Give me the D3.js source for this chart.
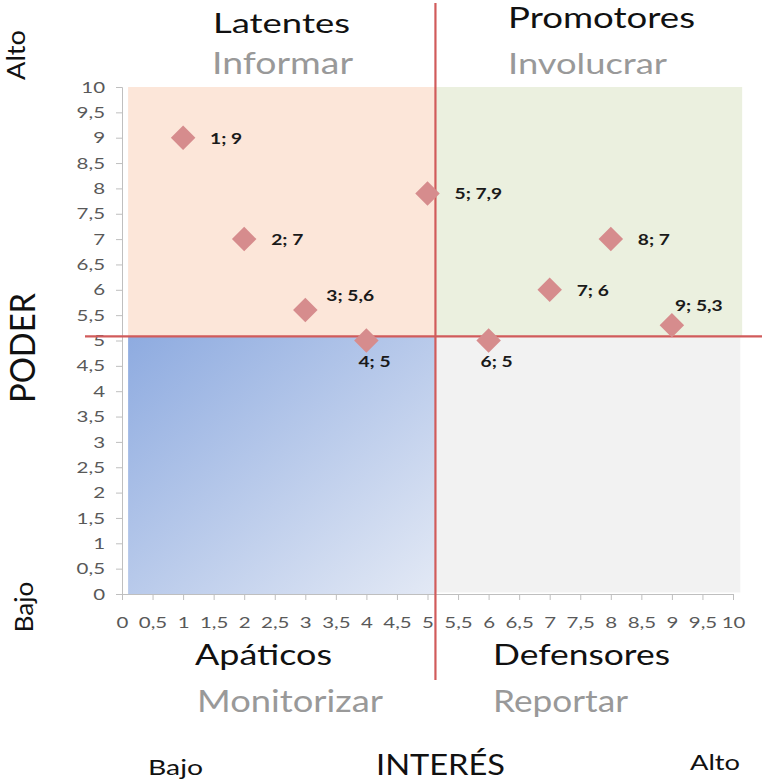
<!DOCTYPE html>
<html><head><meta charset="utf-8">
<script src="https://cdn.jsdelivr.net/npm/d3@7"></script>
<style>
body{margin:0;background:#fff;}
svg{display:block;font-family:Lato,"Open Sans",sans-serif;}
</style></head>
<body><svg id="c" width="762" height="782"></svg>
<script>
// Data
const interes = [1, 2, 3, 4, 5, 6, 7, 8, 9];
const poder   = [9, 7, 5.6, 5, 7.9, 5, 6, 7, 5.3];
const labelPlacement = ["right","right","upRight","below","right","below","right","right","up"];
const tickValues = d3.range(0, 10.01, 0.5);
const quadrantTitles = ["Latentes","Promotores","Apáticos","Defensores"];
const quadrantActions = ["Informar","Involucrar","Monitorizar","Reportar"];
const xDivider = 5.13, yDivider = 5.08;

const FONT = "Lato,'Open Sans',sans-serif";
const SX = 1.28; // horizontal stretch of the reference text
const svg = d3.select("#c");
const x = d3.scaleLinear().domain([0,10]).range([122,733]);
const y = d3.scaleLinear().domain([0,10]).range([594,87]);
const loc = d3.formatLocale({decimal:",",thousands:".",grouping:[3],currency:["",""]});
const fmt = v => loc.format("~g")(v);

// gradient
const defs = svg.append("defs");
const g = defs.append("linearGradient").attr("id","blueGrad").attr("x1","0").attr("y1","0").attr("x2","1").attr("y2","1");
g.append("stop").attr("offset","0%").attr("stop-color","#8eabe0");
g.append("stop").attr("offset","100%").attr("stop-color","#e3e9f5");

// quadrant backgrounds (in data units)
const quads = [
  {x0:0.1,x1:xDivider,y0:yDivider,y1:10,fill:"#fce6d9"},
  {x0:xDivider,x1:10.15,y0:yDivider,y1:10,fill:"#ebf0df"},
  {x0:0.1,x1:xDivider,y0:0,y1:yDivider,fill:"url(#blueGrad)"},
  {x0:xDivider,x1:10.12,y0:0.03,y1:yDivider,fill:"#f2f2f2"}
];
svg.selectAll("rect.q").data(quads).enter().append("rect")
  .attr("x",d=>x(d.x0)).attr("y",d=>y(d.y1))
  .attr("width",d=>x(d.x1)-x(d.x0)).attr("height",d=>y(d.y0)-y(d.y1))
  .attr("fill",d=>d.fill);

// axes
const yAxis = d3.axisLeft(y).tickValues(tickValues).tickFormat(fmt).tickSize(6);
const xAxis = d3.axisBottom(x).tickValues(tickValues).tickFormat(fmt).tickSize(6);
const ya = svg.append("g").attr("transform",`translate(${x(0)},0)`).call(yAxis);
const xa = svg.append("g").attr("transform",`translate(0,${y(0)})`).call(xAxis);
[ya,xa].forEach(a=>{
  a.selectAll("path,line").attr("stroke","#bfbfbf");
  a.selectAll("text").attr("fill","#595959").style("font-size","16px").style("font-family",FONT)
    .attr("transform",`scale(${SX},1)`);
});
ya.selectAll("text").attr("x",-17/SX);
xa.selectAll("text").attr("y",34).attr("dy",null);

// divider lines
svg.append("line").attr("x1",85).attr("x2",762).attr("y1",y(yDivider)).attr("y2",y(yDivider))
  .attr("stroke","#d15b5b").attr("stroke-width",2.2);
svg.append("line").attr("x1",x(xDivider)).attr("x2",x(xDivider)).attr("y1",3).attr("y2",680)
  .attr("stroke","#d15b5b").attr("stroke-width",2.2);

// points
const pts = interes.map((v,i)=>({x:v,y:poder[i],pos:labelPlacement[i]}));
svg.selectAll("path.pt").data(pts).enter().append("path")
  .attr("d",d3.symbol().type(d3.symbolSquare).size(300))
  .attr("transform",d=>`translate(${x(d.x)},${y(d.y)}) rotate(45)`)
  .attr("fill","#d68c8d");
const off = {right:[27,6],upRight:[21,-9],up:[3,-14],below:[-8,26]};
svg.selectAll("text.lbl").data(pts).enter().append("text")
  .attr("transform",d=>`translate(${x(d.x)+off[d.pos][0]},${y(d.y)+off[d.pos][1]}) scale(${SX},1)`)
  .attr("font-weight","bold").attr("font-size","15px").attr("fill","#1a1a1a")
  .text(d=>`${fmt(d.x)}; ${fmt(d.y)}`);

// quadrant titles: [x, baseline, width, fontsize]
function label(t,[px,py,w,fs],color){
  svg.append("text").attr("x",px).attr("y",py).attr("font-size",fs+"px").attr("fill",color)
    .attr("textLength",w).attr("lengthAdjust","spacingAndGlyphs").text(t);
}
const titleBox = [[213,33,137,27],[508,28,187,28],[195,665,137,28],[493,665,177,28]];
const actionBox = [[212,74,141,30],[508,74,159,29],[197,712,186,30],[493,712,135,30]];
quadrantTitles.forEach((t,i)=>{
  label(t,titleBox[i],"#111");
  label(quadrantActions[i],actionBox[i],"#999");
});

// axis titles
label("INTERÉS",[376,775,129,29],"#111");
label("Bajo",[148,775,55,22],"#111");
label("Alto",[690,770,50,22],"#111");
function vlabel(t,cx,cy,len,fs,sy){
  svg.append("text").attr("transform",`translate(${cx},${cy}) rotate(-90) scale(1,${sy})`)
    .attr("text-anchor","middle").attr("font-size",fs+"px").attr("fill","#111")
    .attr("textLength",len).attr("lengthAdjust","spacingAndGlyphs").text(t);
}
vlabel("PODER",35,348,110,28,1.25);
vlabel("Alto",25,55,50,22,1.15);
vlabel("Bajo",33,607,51,22,1.15);
</script></body></html>
